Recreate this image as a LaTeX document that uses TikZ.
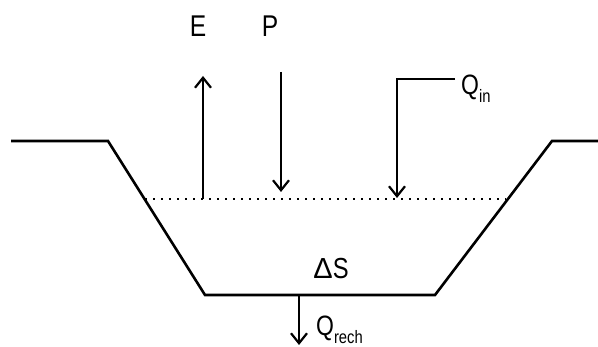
\documentclass[tikz,border=0pt]{standalone}
\usepackage{fontspec}
\setmainfont{Liberation Sans}
\newfontfamily\lblfont[FakeStretch=0.82]{Liberation Sans}
\usetikzlibrary{arrows.meta}
\begin{document}
\begin{tikzpicture}[x=1pt,y=-1pt,
  bank/.style={line width=2.6pt, line join=miter},
  flow/.style={line width=1.8pt, -{Straight Barb[length=10pt,width=16pt,line width=2.2pt]}},
  lbl/.style={inner sep=0pt, font=\lblfont\fontsize{30}{30}\selectfont},
  qlbl/.style={inner sep=0pt, anchor=west, font=\lblfont\fontsize{28}{28}\selectfont}]
\useasboundingbox (0,0) rectangle (598,347);
% channel cross-section
\draw[bank] (11,141) -- (108,141) -- (205,295) -- (435,295) -- (552,141) -- (598,141);
% water surface
\draw[line width=1.7pt, dash pattern=on 2pt off 6pt] (145,199) -- (506,199);
% labels
\node[lbl] (E) at (198,26) {E};
\node[lbl] (P) at (270,26) {P};
\node[qlbl] (Qin) at (461,89) {Q\raisebox{-0.55ex}{\fontsize{18}{18}\selectfont in}};
\node[inner sep=0pt, font=\fontsize{29}{29}\selectfont] (dS) at (331,269) {Δ\lblfont S};
\node[qlbl] (Qr) at (316,330) {Q\raisebox{-0.55ex}{\fontsize{18}{18}\selectfont rech}};
% coordinates
\coordinate (e0) at (203,199);
\coordinate (e1) at (203,76);
\coordinate (p0) at (281,72);
\coordinate (p1) at (281,192);
\coordinate (q0) at (455,79);
\coordinate (q1) at (397,79);
\coordinate (q2) at (397,198);
\coordinate (r0) at (299,295);
\coordinate (r1) at (299,345);
% flows
\draw[flow] (e0) -- (e1);
\draw[flow] (p0) -- (p1);
\draw[flow, line join=miter] (q0) -- (q1) -- (q2);
\draw[flow] (r0) -- (r1);
\end{tikzpicture}
\end{document}
